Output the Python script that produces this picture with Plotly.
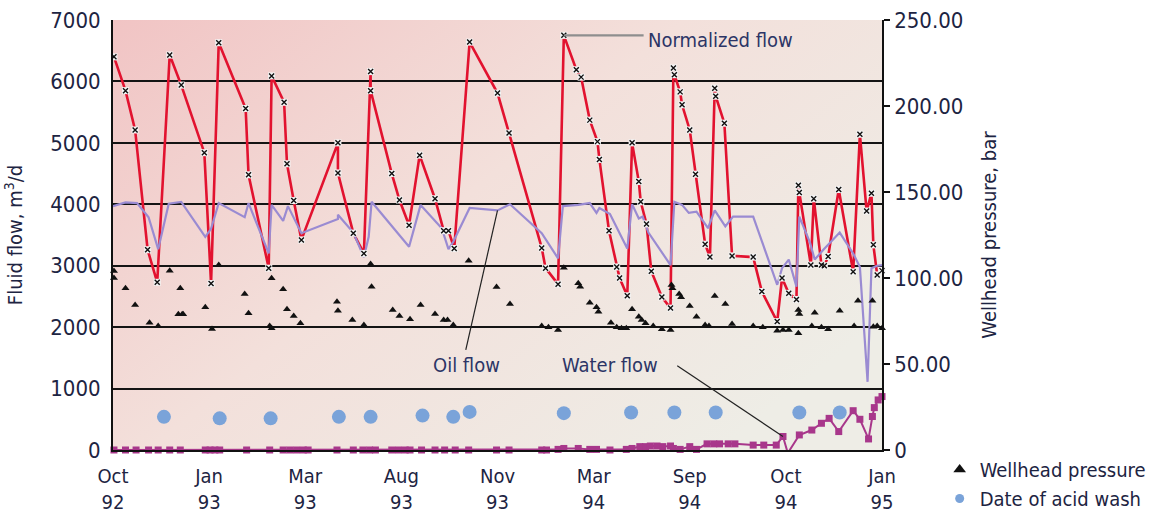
import base64
import plotly.graph_objects as go

# x positions are on the sampling axis: 0 = Oct 92 ... 8 = Jan 95
tick_pos = [0, 1, 2, 3, 4, 5, 6, 7, 8]
tick_text = ["Oct<br>92", "Jan<br>93", "Mar<br>93", "Aug<br>93", "Nov<br>93",
             "Mar<br>94", "Sep<br>94", "Oct<br>94", "Jan<br>95"]

# Normalized flow, m3/d
norm_x = [0.01, 0.13, 0.23, 0.36, 0.46, 0.59, 0.71, 0.95, 1.02, 1.10, 1.38, 1.41, 1.62, 1.65, 1.78,
          1.81, 1.88, 1.96, 2.34, 2.34, 2.50, 2.61, 2.68, 2.68, 2.90, 2.98, 3.08, 3.19, 3.35, 3.44,
          3.49, 3.55, 3.71, 4.00, 4.12, 4.46, 4.50, 4.63, 4.69, 4.82, 4.87, 4.96, 5.04, 5.06, 5.16,
          5.24, 5.27, 5.35, 5.40, 5.47, 5.49, 5.55, 5.60, 5.71, 5.80, 5.83, 5.84, 5.90, 5.92, 6.00,
          6.06, 6.16, 6.21, 6.26, 6.27, 6.36, 6.44, 6.66, 6.75, 6.91, 6.96, 7.03, 7.11, 7.13, 7.14,
          7.26, 7.29, 7.37, 7.40, 7.44, 7.55, 7.70, 7.77, 7.84, 7.89, 7.91, 7.95, 8.00]
norm_y = [6400, 5850, 5210, 3260, 2730, 6430, 5940, 4840, 2710, 6630, 5560, 4480, 2960, 6090, 5660,
          4660, 4060, 3420, 5000, 4510, 3530, 3200, 6160, 5850, 4500, 4070, 3660, 4800, 4090, 3570,
          3570, 3280, 6640, 5810, 5160, 3290, 2960, 2700, 6750, 6190, 6070, 5370, 5020, 4730, 3570,
          2980, 2800, 2510, 5000, 4370, 4040, 3680, 2910, 2490, 2310, 6220, 6110, 5830, 5620, 5210,
          4490, 3350, 3140, 5890, 5760, 5320, 3160, 3140, 2580, 2090, 2800, 2550, 2450, 4310, 4190,
          3010, 4090, 3010, 3000, 3150, 4240, 2900, 5140, 3890, 4180, 3340, 2850, 2920]

# Oil flow, m3/d
oil_x = [0.00, 0.13, 0.25, 0.37, 0.47, 0.58, 0.71, 0.96, 1.02, 1.10, 1.37, 1.41, 1.62, 1.65, 1.77,
         1.82, 1.96, 2.34, 2.34, 2.50, 2.61, 2.66, 2.69, 3.08, 3.20, 3.42, 3.49, 3.54, 3.71, 4.00,
         4.13, 4.46, 4.63, 4.68, 4.84, 4.96, 5.03, 5.06, 5.17, 5.35, 5.40, 5.47, 5.51, 5.57, 5.80,
         5.84, 5.92, 5.99, 6.07, 6.19, 6.26, 6.37, 6.45, 6.66, 6.91, 6.96, 7.03, 7.11, 7.14, 7.25,
         7.30, 7.39, 7.56, 7.70, 7.77, 7.85, 7.89, 7.95, 8.00]
oil_y = [3970, 4030, 4020, 3790, 3270, 4010, 4040, 3470, 3600, 4020, 3790, 4020, 3200, 3990, 3730,
         3970, 3530, 3760, 3830, 3540, 3140, 3470, 4040, 3310, 3990, 3610, 3270, 3390, 3940, 3900,
         4000, 3530, 3120, 3970, 3990, 4020, 3860, 3940, 3840, 3280, 4000, 3770, 3800, 3540, 3010,
         4040, 3990, 3860, 3880, 3610, 3900, 3640, 3800, 3800, 2690, 2960, 3100, 2660, 3800, 3380,
         3100, 3260, 3540, 3200, 2980, 1110, 2960, 3000, 3010]

# Water flow, m3/d
water_x = [0.01, 0.13, 0.24, 0.37, 0.47, 0.59, 0.70, 0.96, 1.01, 1.06, 1.11, 1.39, 1.63, 1.77, 1.84,
           1.91, 1.98, 2.03, 2.33, 2.50, 2.60, 2.67, 2.73, 2.90, 2.97, 3.04, 3.09, 3.21, 3.35, 3.45,
           3.56, 3.70, 3.99, 4.12, 4.46, 4.51, 4.63, 4.69, 4.84, 4.96, 5.03, 5.17, 5.34, 5.40, 5.48,
           5.54, 5.59, 5.66, 5.72, 5.80, 5.83, 5.90, 6.00, 6.07, 6.18, 6.25, 6.31, 6.40, 6.47, 6.66,
           6.77, 6.90, 6.97, 7.02, 7.14, 7.27, 7.37, 7.45, 7.55, 7.70, 7.77, 7.86, 7.90, 7.92, 7.96,
           8.00]
water_y = [0, 0, 0, 0, 0, 0, 0, 0, 0, 0, 0, 0, 0, 0, 0,
           0, 0, 0, 0, 0, 0, 0, 0, 0, 0, 0, 0, 0, 0, 0,
           0, 0, 0, 0, 0, 0, 10, 25, 25, 10, 10, 0, 10, 25, 55,
           55, 65, 65, 55, 65, 25, 10, 55, 10, 100, 100, 100, 100, 100, 80,
           80, 80, 220, -50, 245, 325, 435, 515, 300, 640, 500, 180, 545, 690, 815,
           870]

# Wellhead pressure, bar
wp_x = [0.01, 0.01, 0.13, 0.23, 0.38, 0.47, 0.59, 0.68, 0.70, 0.72, 0.73, 0.96, 1.03, 1.10, 1.37,
        1.41, 1.63, 1.65, 1.65, 1.77, 1.81, 1.88, 1.95, 2.33, 2.34, 2.49, 2.61, 2.68, 2.69, 2.91,
        2.98, 3.09, 3.20, 3.35, 3.44, 3.48, 3.54, 3.70, 3.99, 4.13, 4.46, 4.53, 4.63, 4.69, 4.84,
        4.86, 4.96, 5.03, 5.05, 5.18, 5.24, 5.29, 5.34, 5.40, 5.47, 5.50, 5.54, 5.62, 5.71, 5.80,
        5.81, 5.82, 5.89, 5.91, 6.00, 6.07, 6.16, 6.20, 6.26, 6.37, 6.44, 6.66, 6.76, 6.91, 6.97,
        7.03, 7.13, 7.13, 7.14, 7.27, 7.30, 7.37, 7.44, 7.56, 7.71, 7.75, 7.90, 7.91, 7.95, 8.00]
wp_y = [104, 100, 94.0, 84.3, 74.0, 72.1, 104.2, 78.9, 94.0, 78.9, 78.9, 83.0, 70.3, 107.6, 90.7,
        79.5, 72.1, 70.8, 99.8, 93.4, 81.8, 77.9, 73.7, 86.2, 81.0, 75.6, 72.7, 108.1, 94.9, 81.4,
        77.9, 76.0, 84.3, 79.1, 75.6, 75.6, 72.7, 110.1, 94.8, 84.9, 72.1, 71.3, 69.8, 106.0, 96.9,
        94.9, 85.6, 83.0, 80.4, 74.0, 71.3, 70.8, 70.8, 81.8, 77.5, 75.6, 73.7, 72.1, 70.2, 69.8,
        95.9, 94.0, 90.7, 88.8, 83.7, 77.5, 72.7, 72.1, 89.5, 84.9, 73.3, 72.1, 71.3, 69.4, 69.8,
        69.8, 67.9, 81.4, 79.1, 72.1, 79.8, 71.3, 70.2, 81.0, 72.1, 86.8, 86.8, 71.7, 72.1, 70.8]

# Dates of acid wash (plotted just above the water-flow baseline)
acid_x = [0.53, 1.11, 1.64, 2.35, 2.68, 3.22, 3.54, 3.71, 4.69, 5.39, 5.84, 6.27, 7.14, 7.56, 8.01]
acid_y = [540, 515, 515, 540, 540, 560, 540, 620, 600, 610, 610, 610, 610, 610, 570]

FONT = "DejaVu Sans Condensed, DejaVu Sans, sans-serif"
INK = "#1d2442"
LABEL_INK = "#2c3566"
RED = "#e2122f"
OIL = "#9a8bd2"
WATER = "#a8378b"
ACID = "#7aa3d9"

fig = go.Figure()

fig.add_trace(go.Scatter(
    x=water_x, y=water_y, mode="lines+markers", cliponaxis=False,
    line=dict(color=WATER, width=2),
    marker=dict(symbol="square", size=7, color=WATER),
    showlegend=False, hoverinfo="skip"))

fig.add_trace(go.Scatter(
    x=acid_x, y=acid_y, mode="markers", cliponaxis=False,
    marker=dict(symbol="circle", size=14, color=ACID),
    showlegend=False, hoverinfo="skip"))

fig.add_trace(go.Scatter(
    x=norm_x, y=norm_y, mode="lines",
    line=dict(color=RED, width=2.6),
    showlegend=False, hoverinfo="skip"))

fig.add_trace(go.Scatter(
    x=oil_x, y=oil_y, mode="lines",
    line=dict(color=OIL, width=2.2),
    showlegend=False, hoverinfo="skip"))

# white boxes with a black cross on the normalized-flow samples
fig.add_trace(go.Scatter(
    x=norm_x, y=norm_y, mode="markers", cliponaxis=False,
    marker=dict(symbol="square", size=7, color="#f4f4f4"),
    showlegend=False, hoverinfo="skip"))
fig.add_trace(go.Scatter(
    x=norm_x, y=norm_y, mode="markers", cliponaxis=False,
    marker=dict(symbol="x-thin-open", size=5, color="#111",
                line=dict(color="#111", width=1.4)),
    showlegend=False, hoverinfo="skip"))

fig.add_trace(go.Scatter(
    x=wp_x, y=wp_y, yaxis="y2", mode="markers", cliponaxis=False,
    marker=dict(symbol="triangle-up", size=7, color="#111"),
    showlegend=False, hoverinfo="skip"))

# legend entries
fig.add_trace(go.Scatter(
    x=[None], y=[None], mode="markers", name="Wellhead pressure",
    marker=dict(symbol="triangle-up", size=11, color="#111")))
fig.add_trace(go.Scatter(
    x=[None], y=[None], mode="markers", name="Date of acid wash",
    marker=dict(symbol="circle", size=9, color=ACID)))

# soft diagonal background wash of the plot area
svg = ('<svg xmlns="http://www.w3.org/2000/svg" viewBox="0 0 100 100" width="100" height="100" '
       'preserveAspectRatio="none"><defs><linearGradient id="g" x1="0" y1="0" x2="1" y2="0.7">'
       '<stop offset="0" stop-color="#f1c4c4"/><stop offset="0.5" stop-color="#f3e0db"/>'
       '<stop offset="1" stop-color="#eeede6"/></linearGradient></defs>'
       '<rect width="100" height="100" fill="url(#g)"/></svg>')
bg_src = "data:image/svg+xml;base64," + base64.b64encode(svg.encode()).decode()

peak = 38   # highest normalized-flow sample, used by the leader line
oil_pt = 29
water_pt = 62

fig.update_layout(
    width=1163, height=516,
    margin=dict(l=113, r=281, t=20, b=66, autoexpand=False),
    paper_bgcolor="white", plot_bgcolor="rgba(0,0,0,0)",
    font=dict(family=FONT, size=22, color=INK),
    images=[dict(source=bg_src, xref="paper", yref="paper", x=0, y=1, sizex=1, sizey=1,
                 xanchor="left", yanchor="top", sizing="stretch", layer="below")],
    xaxis=dict(range=[0, 8], tickvals=tick_pos, ticktext=tick_text, showgrid=False,
               zeroline=False, showline=True, linecolor="#111", linewidth=2, automargin=False,
               ticks="", ticklabelstandoff=7, tickfont=dict(size=20)),
    yaxis=dict(range=[0, 7000], tickvals=[0, 1000, 2000, 3000, 4000, 5000, 6000, 7000],
               showgrid=True, gridcolor="#141414", gridwidth=1.6, zeroline=False, automargin=False,
               showline=True, linecolor="#111", linewidth=2, ticks="", ticklabelstandoff=6,
               title=dict(text="Fluid flow, m<sup>3</sup>/d", font=dict(size=20), standoff=22)),
    yaxis2=dict(range=[0, 250], overlaying="y", side="right", automargin=False,
                tickvals=[0, 50, 100, 150, 200, 250],
                ticktext=["0", "50.00", "100.00", "150.00", "200.00", "250.00"],
                showgrid=False, zeroline=False, showline=True, linecolor="#111", linewidth=1.6,
                ticks="outside", ticklen=6, tickwidth=1.6, tickcolor="#111",
                title=dict(text="Wellhead pressure, bar", font=dict(size=20), standoff=20)),
    legend=dict(x=1.075, y=0.0, xanchor="left", yanchor="top", bgcolor="rgba(0,0,0,0)",
                font=dict(size=20), itemwidth=30, tracegroupgap=0),
    shapes=[
        dict(type="line", xref="x", yref="y", x0=norm_x[peak], y0=norm_y[peak],
             x1=5.52, y1=norm_y[peak], line=dict(color="#8e8e8e", width=2.2)),
        dict(type="line", xref="x", yref="y", x0=3.67, y0=1630,
             x1=oil_x[oil_pt], y1=oil_y[oil_pt], line=dict(color="#222", width=1.2)),
        dict(type="line", xref="x", yref="y", x0=5.87, y0=1370,
             x1=water_x[water_pt], y1=water_y[water_pt], line=dict(color="#222", width=1.2)),
    ],
    annotations=[
        dict(x=5.55, y=6680, xref="x", yref="y", text="Normalized flow", showarrow=False,
             xanchor="left", font=dict(size=20, color=LABEL_INK)),
        dict(x=3.68, y=1384, xref="x", yref="y", text="Oil flow", showarrow=False,
             font=dict(size=20, color=LABEL_INK)),
        dict(x=5.17, y=1384, xref="x", yref="y", text="Water flow", showarrow=False,
             font=dict(size=20, color=LABEL_INK)),
    ],
)

fig.write_html("out.html")
